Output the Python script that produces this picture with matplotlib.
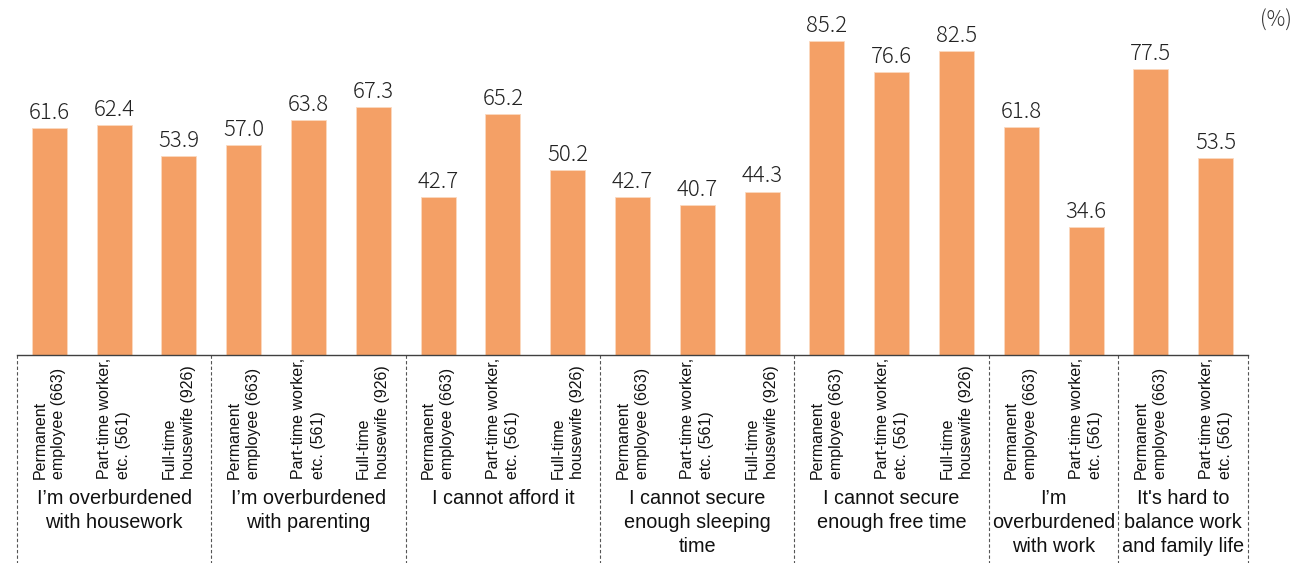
import matplotlib
matplotlib.use("Agg")
import matplotlib.pyplot as plt

# ---- data ----
groups = [
    "I’m overburdened\nwith housework",
    "I’m overburdened\nwith parenting",
    "I cannot afford it",
    "I cannot secure\nenough sleeping\ntime",
    "I cannot secure\nenough free time",
    "I’m\noverburdened\nwith work",
    "It's hard to\nbalance work\nand family life",
]
respondent_labels = [
    "Permanent\nemployee (663)",
    "Part-time worker,\netc. (561)",
    "Full-time\nhousewife (926)",
]
group_sizes = [3, 3, 3, 3, 3, 2, 2]
values = [
    [61.6, 62.4, 53.9],
    [57.0, 63.8, 67.3],
    [42.7, 65.2, 50.2],
    [42.7, 40.7, 44.3],
    [85.2, 76.6, 82.5],
    [61.8, 34.6],
    [77.5, 53.5],
]
unit_label = "(%)"

# ---- figure ----
W, H = 1305, 563
fig = plt.figure(figsize=(W / 100, H / 100), dpi=100)
base_px = 355
ppu = 3.69
ymax = 90
ax = fig.add_axes([17 / W, (H - base_px) / H, (1248 - 17) / W, ymax * ppu / H])
ax.set_xlim(0, sum(group_sizes))
ax.set_ylim(0, ymax)
for s in ["top", "left", "right"]:
    ax.spines[s].set_visible(False)
ax.spines["bottom"].set_color("#404040")
ax.spines["bottom"].set_linewidth(1.0)
ax.set_xticks([])
ax.set_yticks([])

bar_color = "#F4A066"
y_bottom = -(H - base_px) / ppu
lab_y = -(479 - base_px) / ppu
grp_y = -(489 - base_px) / ppu

pos = 0
seps = [0]
for g, (gname, n, vals) in enumerate(zip(groups, group_sizes, values)):
    xs = [pos + i + 0.5 for i in range(n)]
    ax.bar(xs, vals, width=0.54, color=bar_color, edgecolor="#FBD9C0", linewidth=0.6)
    for x, v, lab in zip(xs, vals, respondent_labels[:n]):
        ax.text(x, v + 2.45, f"{v:.1f}", ha="center", va="baseline",
                fontsize=16, fontweight="light",
                family=["Noto Sans CJK JP", "DejaVu Sans"], color="#222222")
        ax.text(x, lab_y, lab, rotation=90, ha="center", va="bottom",
                multialignment="left", fontsize=11.5, family="Liberation Sans",
                color="#111111", clip_on=False, linespacing=1.35)
    ax.text(pos + n / 2, grp_y, gname, ha="center", va="top", fontsize=14.3,
            family="Liberation Sans", color="#111111", clip_on=False,
            linespacing=1.33)
    pos += n
    seps.append(pos)

for s in seps:
    ax.plot([s, s], [0, y_bottom], color="#555555", lw=0.8, ls=(0, (3, 2)),
            clip_on=False)

fig.text(1276 / W, 1 - 21 / H, unit_label, ha="center", va="center", fontsize=15,
         fontweight="light",
         family=["Noto Sans CJK JP", "DejaVu Sans"], color="#333333")

fig.savefig("out.png", dpi=100, facecolor="white")
